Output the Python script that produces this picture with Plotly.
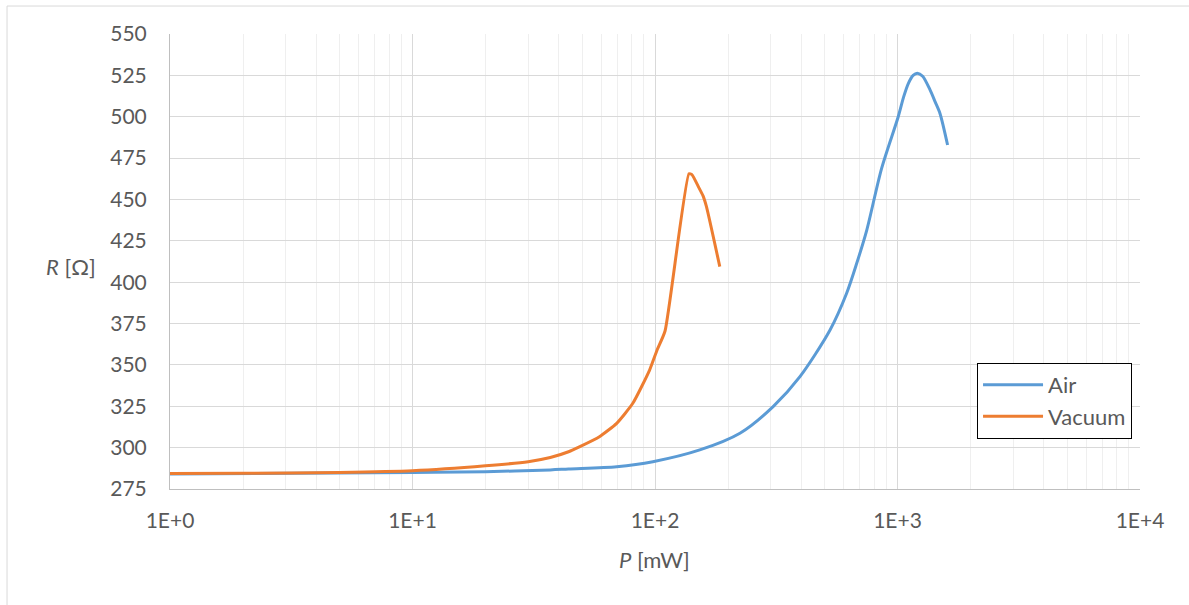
import plotly.graph_objects as go

# Data
air_p = [1, 10, 20, 37, 44, 69.5, 98, 153, 224, 307, 396, 527, 617, 679, 747,
         860, 1007, 1060, 1109, 1160, 1207, 1270, 1362, 1430, 1497, 1609]
air_r = [284, 285, 285.5, 286.5, 287.1, 288.5, 291.5, 298.6, 308.7, 324.8, 342.9,
         371.1, 393.3, 411.4, 431.5, 468.8, 500, 512, 520.2, 525, 526.3, 524.5, 516.2, 509, 502, 482.9]

vac_p = [1, 2, 5, 10, 20, 30, 37, 44, 49, 59, 69.5, 81, 95, 102, 110, 138, 142, 151, 158, 163, 185]
vac_r = [284.3, 284.5, 285, 286, 289, 291.5, 294, 297.5, 300.6, 306.6, 314.7, 326.8, 346.9,
         359, 370.5, 465.5, 465, 457.7, 452, 445.6, 409.4]

x_tickvals = [1, 10, 100, 1000, 10000]
x_ticktext = ["1E+0", "1E+1", "1E+2", "1E+3", "1E+4"]
x_minor = [m * 10 ** e for e in range(4) for m in range(2, 10)]

FONT = "Lato"
TXT = "#595959"
FS = 22

fig = go.Figure()
fig.add_trace(go.Scatter(x=air_p, y=air_r, mode="lines", name="Air",
                         line=dict(color="#5B9BD5", width=3, shape="spline", smoothing=0.8)))
fig.add_trace(go.Scatter(x=vac_p, y=vac_r, mode="lines", name="Vacuum",
                         line=dict(color="#ED7D31", width=3, shape="spline", smoothing=0.5)))

fig.update_layout(
    width=1189, height=605,
    margin=dict(l=170, r=49, t=34, b=116),
    paper_bgcolor="white", plot_bgcolor="white",
    font=dict(family=FONT, size=FS, color=TXT),
    showlegend=True,
    legend=dict(x=0.832, y=0.277, xanchor="left", yanchor="top",
                bordercolor="black", borderwidth=1, bgcolor="white",
                itemwidth=60,
                font=dict(family=FONT, size=FS, color=TXT)),
    xaxis=dict(type="log", range=[0, 4], tickmode="array", tickvals=x_tickvals,
               ticktext=x_ticktext, showgrid=True, gridcolor="#D9D9D9", gridwidth=1,
               showline=True, linecolor="#BFBFBF", linewidth=1, zeroline=False,
               ticks="", ticklabelstandoff=13, tickfont=dict(size=21),
               minor=dict(tickmode="array", tickvals=x_minor, showgrid=True,
                          gridcolor="#EFEFEF", gridwidth=1, ticks="")),
    yaxis=dict(range=[275, 550], dtick=25, tick0=275, showgrid=True, gridcolor="#D9D9D9",
               gridwidth=1, showline=True, linecolor="#BFBFBF", linewidth=1,
               zeroline=False, ticks="", ticklabelstandoff=18, tickfont=dict(size=21)),
    annotations=[
        dict(text="<i>R</i> [Ω]", xref="paper", yref="paper", x=-0.102, y=0.488,
             xanchor="center", yanchor="middle", showarrow=False,
             font=dict(family=FONT, size=FS, color=TXT)),
        dict(text="<i>P</i> [mW]", xref="paper", yref="paper", x=0.499, y=-0.156,
             xanchor="center", yanchor="middle", showarrow=False,
             font=dict(family=FONT, size=FS, color=TXT)),
    ],
    shapes=[
        dict(type="line", xref="paper", yref="paper", x0=-0.168, x1=-0.168, y0=1.0615, y1=-0.26,
             line=dict(color="#D9D9D9", width=1)),
        dict(type="line", xref="paper", yref="paper", x0=-0.168, x1=1.06, y0=1.0615, y1=1.0615,
             line=dict(color="#D9D9D9", width=1)),
    ],
)

fig.write_html("out.html")
